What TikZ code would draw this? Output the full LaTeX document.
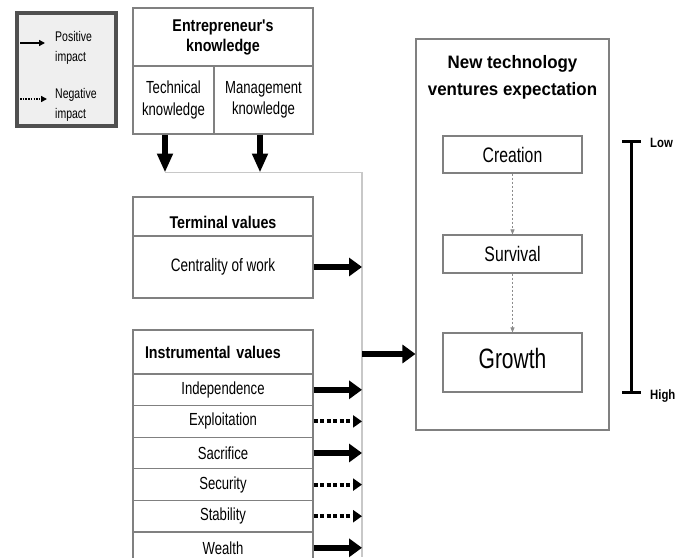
\documentclass[tikz,border=0pt]{standalone}
\usepackage{fontspec}
\usepackage{tikz}
\usetikzlibrary{arrows.meta, positioning, calc}
\setmainfont{Liberation Sans}[FakeStretch=0.75]
\newfontfamily\headfont{Liberation Sans}[FakeStretch=0.84]
\newfontfamily\titlefont{Liberation Sans}[FakeStretch=0.94]
\definecolor{boxline}{HTML}{808080}
\definecolor{busgray}{HTML}{C8C8C8}
\definecolor{legfill}{HTML}{EFEFEF}
\definecolor{legframe}{HTML}{505050}

\begin{document}
\begin{tikzpicture}[x=1pt, y=-1pt,
    box/.style={draw=boxline, line width=1.1pt, inner sep=0pt, align=center, font=\fontsize{17.5}{21.5}\selectfont},
    head/.style={box, font=\headfont\bfseries\fontsize{17}{20}\selectfont},
    row/.style={box, minimum width=180pt, minimum height=31.6pt},
    stage/.style={draw=boxline, line width=1.1pt, minimum width=139pt, inner sep=0pt},
    legtext/.style={align=left, inner sep=0pt, font=\fontsize{14}{20}\selectfont},
    scalelab/.style={inner sep=0pt, font=\headfont\bfseries\fontsize{13.5}{15}\selectfont},
    busline/.style={draw=busgray, line width=1.2pt},
    posarrow/.style={line width=5.5pt, -{Triangle[length=13pt,width=18pt]}},
    negarrow/.style={line width=4pt, dash pattern=on 4pt off 2.5pt, -{Triangle[length=9pt,width=12pt]}},
    downarrow/.style={line width=5.5pt, -{Triangle[length=19pt,width=15pt]}},
    stagearrow/.style={draw=black!45, line width=0.8pt, dash pattern=on 2pt off 2pt, -{Triangle[length=5pt,width=4pt]}}]
    \useasboundingbox[fill=white] (0,0) rectangle (688,557);

    % legend
    \node[draw=legframe, fill=legfill, line width=4pt, minimum width=99pt, minimum height=113pt, inner sep=0pt] (legend) at (66.5,69.5) {};
    \coordinate (legpa) at (20,43);
    \coordinate (legpb) at (45,43);
    \coordinate (legna) at (20,99);
    \coordinate (legnb) at (47,99);
    \draw[line width=1.8pt, -{Triangle[length=6pt,width=6pt]}] (legpa) -- (legpb);
    \draw[line width=1.8pt, dash pattern=on 1.5pt off 1.2pt, -{Triangle[length=6pt,width=6pt]}] (legna) -- (legnb);
    \node[legtext, anchor=west] (postext) at (55,48) {Positive\\impact};
    \node[legtext, anchor=west] (negtext) at (55,105) {Negative\\impact};

    % knowledge
    \node[head, minimum width=180pt, minimum height=58pt] (ent) at (223,37) {Entrepreneur's\\knowledge};
    \node[box, minimum width=81pt, minimum height=68pt] (techk) at (173.5,100) {Technical\\knowledge};
    \node[box, minimum width=99pt, minimum height=68pt] (mgmtk) at (263.5,100) {Management\\knowledge};

    \coordinate (techin) at (165,172.5);
    \coordinate (mgmtin) at (260,172.5);
    \coordinate (bus) at (362,172.5);
    \coordinate (busend) at (362,557);
    \coordinate (busout) at (362,354);
    \draw[busline] (techin) -- (bus) -- (busend);
    \draw[downarrow] (techk.south -| techin) -- (techin);
    \draw[downarrow] (mgmtk.south -| mgmtin) -- (mgmtin);

    % values
    \node[head, minimum width=180pt, minimum height=39pt, text height=24pt] (termh) at (223,216.5) {Terminal values};
    \node[box, minimum width=180pt, minimum height=62pt, font=\fontsize{18}{22}\selectfont] (centr) at (223,267) {Centrality of work};
    \draw[posarrow] (centr.east) -- (centr.east -| bus);

    \node[head, minimum height=44pt, text width=156pt, inner xsep=12pt, align=left] (instr) at (223,352) {Instrumental values};
    \node[row] (indep) at (223,389.8) {Independence};
    \node[row] (explo) at (223,421.4) {Exploitation};
    \node[row] (sacri) at (223,453) {Sacrifice};
    \node[row] (secur) at (223,484.6) {Security};
    \node[row] (stabi) at (223,516.2) {Stability};
    \node[row] (wealth) at (223,547.8) {Wealth};
    \draw[posarrow] (indep.east) -- (indep.east -| bus);
    \draw[negarrow] (explo.east) -- (explo.east -| bus);
    \draw[posarrow] (sacri.east) -- (sacri.east -| bus);
    \draw[negarrow] (secur.east) -- (secur.east -| bus);
    \draw[negarrow] (stabi.east) -- (stabi.east -| bus);
    \draw[posarrow] (wealth.east) -- (wealth.east -| bus);

    % expectation
    \node[draw=boxline, line width=1.1pt, minimum width=193pt, minimum height=391pt, inner sep=0pt] (nte) at (512.5,234.5) {};
    \node[align=center, inner sep=0pt, font=\titlefont\bfseries\fontsize{18}{27}\selectfont] (ntetitle) at (512.5,77) {New technology\\ventures expectation};
    \node[stage, minimum height=37pt, font=\fontsize{21}{25}\selectfont] (creation) at (512.5,154.5) {Creation};
    \node[stage, minimum height=38pt, font=\fontsize{21}{25}\selectfont] (survival) at (512.5,254) {Survival};
    \node[stage, minimum height=59pt, text height=12.5pt, font=\fontsize{28}{32}\selectfont] (growth) at (512.5,362.5) {Growth};
    \draw[stagearrow] (creation) -- (survival);
    \draw[stagearrow] (survival) -- (growth);
    \draw[posarrow] (busout) -- (busout -| nte.west);

    % scale
    \coordinate (low) at (631.5,141);
    \coordinate (high) at (631.5,392);
    \draw[line width=3pt] (low) -- (high);
    \draw[line width=3pt] ([xshift=-9.5pt]low) -- ([xshift=9.5pt]low);
    \draw[line width=3pt] ([xshift=-9.5pt]high) -- ([xshift=9.5pt]high);
    \node[scalelab, anchor=base west] (lowlab) at (650,147.5) {Low};
    \node[scalelab, anchor=base west] (highlab) at (650,399) {High};
\end{tikzpicture}
\end{document}
